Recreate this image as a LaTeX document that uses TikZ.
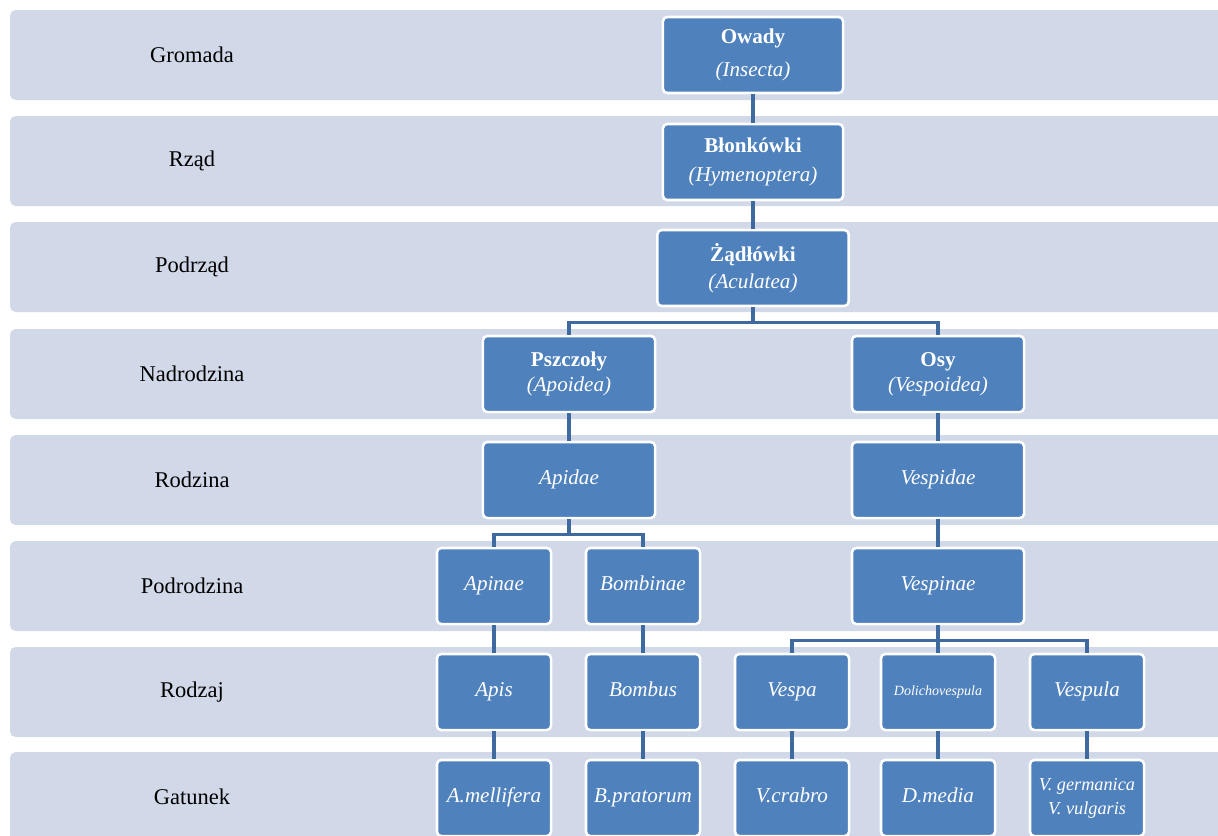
\documentclass[tikz,border=0pt]{standalone}
\usepackage{fontspec}
\setmainfont{Liberation Serif}
\usetikzlibrary{calc,positioning,shadows}
\definecolor{bandgray}{RGB}{209,216,232}
\definecolor{boxblue}{RGB}{79,129,189}
\definecolor{linkblue}{RGB}{62,106,160}

\begin{document}
\begin{tikzpicture}[x=0.025cm,y=-0.025cm,
		band/.style={fill=bandgray,rounded corners=4pt},
		rank/.style={font=\fontsize{16}{19}\selectfont},
		taxon/.style={draw=white,line width=1.8pt,fill=boxblue,rounded corners=3pt,text=white,align=center,
			minimum width=4.3cm,minimum height=1.9cm,inner sep=1pt,font=\fontsize{15}{18}\selectfont,
			drop shadow={opacity=0.2,shadow xshift=0.5pt,shadow yshift=-0.7pt}},
		genus/.style={taxon,minimum width=2.85cm},
		oneline/.style={text height=2.2ex,text depth=0.7ex},
		link/.style={draw=linkblue,line width=2.3pt}]
		\useasboundingbox (0,0) rectangle (1218,836);
		\fill[white] (0,0) rectangle (1218,836);
		\foreach \ytop/\rk/\txt in {10/gromada/Gromada,116/rzad/Rząd,222/podrzad/Podrząd,329/nadrodzina/Nadrodzina,
			435/rodzina/Rodzina,541/podrodzina/Podrodzina,647/rodzaj/Rodzaj,752/gatunek/Gatunek}{
			\fill[band] (10,\ytop) rectangle (1240,\ytop+90);
			\node[rank] (\rk) at (192,\ytop+45) {\txt};
		}
		\node[taxon,minimum width=4.5cm] (owady) at (753,55) {\textbf{Owady}\\[5pt]\textit{(Insecta)}};
		\node[taxon,minimum width=4.5cm] (blonkowki) at (753,162) {\textbf{Błonkówki}\\[3pt]\textit{(Hymenoptera)}};
		\node[taxon,minimum width=4.775cm] (zadlowki) at (753,268) {\textbf{Żądłówki}\\[1pt]\textit{(Aculatea)}};
		\node[taxon] (pszczoly) at (569,374) {\textbf{Pszczoły}\\\textit{(Apoidea)}};
		\node[taxon] (osy) at (938,374) {\textbf{Osy}\\\textit{(Vespoidea)}};
		\node[taxon,oneline] (apidae) at (569,480) {\textit{Apidae}};
		\node[taxon,oneline] (vespidae) at (938,480) {\textit{Vespidae}};
		\node[genus,oneline] (apinae) at (494,586) {\textit{Apinae}};
		\node[genus,oneline] (bombinae) at (643,586) {\textit{Bombinae}};
		\node[taxon,oneline] (vespinae) at (938,586) {\textit{Vespinae}};
		\node[genus,oneline] (apis) at (494,692) {\textit{Apis}};
		\node[genus,oneline] (bombus) at (643,692) {\textit{Bombus}};
		\node[genus,oneline] (vespa) at (792,692) {\textit{Vespa}};
		\node[genus,font=\fontsize{10}{12}\selectfont] (dolichovespula) at (938,692) {\textit{Dolichovespula}};
		\node[genus,oneline] (vespula) at (1087,692) {\textit{Vespula}};
		\node[genus,oneline] (mellifera) at (494,798) {\textit{A.mellifera}};
		\node[genus,oneline] (pratorum) at (643,798) {\textit{B.pratorum}};
		\node[genus,oneline] (crabro) at (792,798) {\textit{V.crabro}};
		\node[genus,oneline] (media) at (938,798) {\textit{D.media}};
		\node[genus,font=\fontsize{13}{15}\selectfont] (germanica) at (1087,798) {\textit{V. germanica}\\[2pt]\textit{V. vulgaris}};
		\path
			(zadlowki.south) ++(0,15) coordinate (fork-aculeata)
			(apidae.south) ++(0,15) coordinate (fork-apidae)
			(vespinae.south) ++(0,15) coordinate (fork-vespinae)
			;
		\draw[link] (owady) -- (blonkowki);
		\draw[link] (blonkowki) -- (zadlowki);
		\draw[link] (zadlowki.south) -- (fork-aculeata) -| (pszczoly.north);
		\draw[link] (fork-aculeata) -| (osy.north);
		\draw[link] (pszczoly) -- (apidae);
		\draw[link] (osy) -- (vespidae);
		\draw[link] (apidae.south) -- (fork-apidae) -| (apinae.north);
		\draw[link] (fork-apidae) -| (bombinae.north);
		\draw[link] (vespidae) -- (vespinae);
		\draw[link] (vespinae.south) -- (fork-vespinae) -| (vespa.north);
		\draw[link] (fork-vespinae) -| (vespula.north);
		\draw[link] (fork-vespinae) -- (dolichovespula);
		\foreach \a/\b in {apinae/apis,bombinae/bombus,apis/mellifera,bombus/pratorum,vespa/crabro,dolichovespula/media,vespula/germanica}
			\draw[link] (\a) -- (\b);
	\end{tikzpicture}
\end{document}
